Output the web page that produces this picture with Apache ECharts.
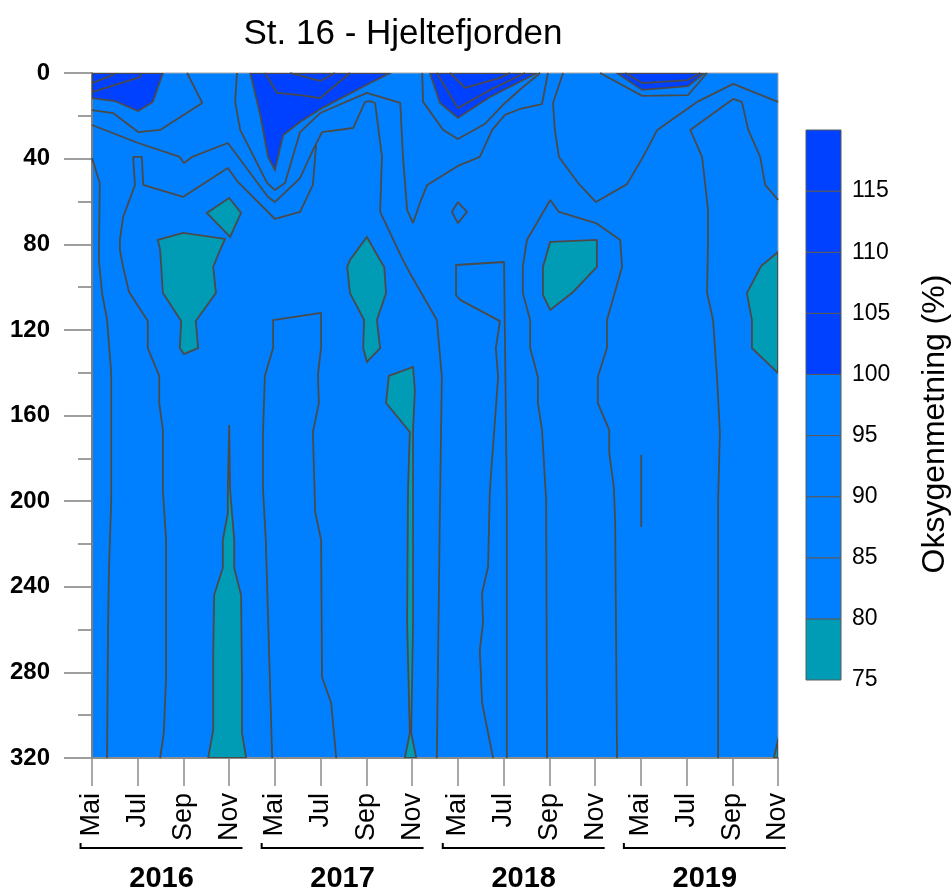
<!DOCTYPE html>
<html><head><meta charset="utf-8">
<script src="https://cdn.jsdelivr.net/npm/echarts/dist/echarts.min.js"></script>
<style>html,body{margin:0;padding:0;background:#fff}#c{width:952px;height:888px}</style>
</head><body><div id="c"></div>
<script>
// ---- axis / legend data ----
const xTickLabels = ['Mai','Jul','Sep','Nov','Mai','Jul','Sep','Nov','Mai','Jul','Sep','Nov','Mai','Jul','Sep','Nov'];
const years = ['2016','2017','2018','2019'];
const levels = [75,80,85,90,95,100,105,110,115,120];
const depthMax = 320;

// ---- filled regions: [sample index, depth m] ----
// > 100 %
const dark2016 = [[0,0],[1.55,0],[1.33,13.5],[1.01,17.8],[0.50,13.1],[0,11.7]];
const dark2017 = [[3.46,0],[6.52,0],[6.08,4.7],[5.03,16.4],[4.55,22.9],[4.18,29.0],[4.00,45.3],[3.85,39.2],[3.67,18.7]];
const dark2018 = [[7.39,0],[9.73,0],[8.70,11.2],[8.00,21.0],[7.61,14.0]];
const dark2019 = [[11.48,0],[13.40,0],[13.03,6.1],[12.03,7.9]];
// < 80 %
const low2016a = [[1.44,78.0],[1.99,74.7],[2.91,77.5],[2.80,82.7],[2.65,90.6],[2.71,102.8],[2.27,115.9],[2.32,128.5],[2.01,131.3],[1.92,128.5],[1.95,115.9],[1.55,102.8],[1.49,82.7]];
const low2016b = [[2.51,65.4],[3.00,58.4],[3.26,65.4],[3.02,76.6]];
const low2016c = [[3.00,164.4],[3.02,194.8],[3.11,218.2],[3.11,231.2],[3.26,243.9],[3.28,285.0],[3.28,308.3],[3.37,320],[2.54,320],[2.65,306.9],[2.65,272.8],[2.67,243.9],[2.86,231.2],[2.86,218.2],[2.97,205.6],[2.97,194.8]];
const low2017a = [[5.64,87.4],[6.01,76.6],[6.30,87.4],[6.39,90.6],[6.43,102.8],[6.23,115.4],[6.30,128.5],[6.01,135.0],[5.93,128.5],[5.95,115.4],[5.64,102.8],[5.58,90.6]];
const low2017b = [[6.49,141.5],[7.02,137.3],[7.06,148.1],[7.02,166.8],[7.02,194.8],[7.02,256.9],[6.98,308.3],[7.09,320],[6.84,320],[6.95,308.3],[6.89,256.9],[6.91,194.8],[6.95,167.7],[6.43,154.2]];
const low2018 = [[10.02,78.9],[11.04,78.0],[11.04,90.6],[10.52,102.3],[10.02,110.7],[9.86,103.7],[9.86,90.6]];
const low2019a = [[15,83.6],[14.63,90.2],[14.32,102.8],[14.43,115.4],[14.43,128.5],[15,140.1]];
const low2019b = [[15,311.6],[14.91,320],[15,320]];

// ---- contour lines ----
const iso2016a = [[0,17.3],[0.46,18.7],[1.01,27.6],[1.49,26.6],[2.41,14.0],[2.08,0]];
const iso2016b = [[0,24.3],[1.01,32.7],[1.92,39.2],[2.01,42.0],[2.19,39.2],[2.97,32.7],[3.85,57.9],[4.00,60.3],[4.55,49.1],[4.83,36.0],[5.03,27.6],[5.71,25.7],[5.97,13.5],[6.08,13.1],[6.19,14.0],[6.34,39.2],[6.30,64.9],[6.80,87.4],[6.95,93.4],[7.54,115.4],[7.65,142.0],[7.61,199.5],[7.54,320]];
const iso2016c = [[1.49,320],[1.57,308.3],[1.62,282.2],[1.62,218.2],[1.55,194.8],[1.55,166.8],[1.47,154.2],[1.47,141.5],[1.22,128.5],[1.22,115.9],[0.81,102.3],[0.68,90.6],[0.61,82.7],[0.61,78.0],[0.68,67.3],[0.94,52.3],[0.90,39.2],[1.09,39.2],[1.12,52.3],[1.99,57.9],[2.97,44.4],[3.19,50.9],[4.00,68.2],[4.55,64.9],[4.83,52.3],[4.90,33.5]];
const iso2016d = [[0,39.7],[0.17,51.4],[0.15,87.4],[0.22,102.8],[0.33,115.4],[0.42,140.1],[0.42,199.5],[0.37,233.6],[0.35,261.6],[0.33,320]];
const iso2017a = [[3.17,0],[3.13,13.5],[3.24,26.6],[3.83,51.4],[4.00,54.7],[4.22,51.4],[4.55,27.6],[4.99,18.7],[6.01,9.3],[6.74,14.0],[6.80,39.2],[6.89,64.0],[7.02,70.1],[7.17,60.7],[7.33,52.3],[8.00,43.4],[8.48,39.2],[8.75,26.6],[9.03,19.6],[9.36,16.8],[9.84,14.5],[9.97,0]];
const iso2017b = [[3.94,320],[3.80,218.2],[3.74,194.8],[3.74,167.7],[3.78,141.5],[3.96,128.5],[3.96,115.4],[5.01,112.1],[5.01,128.0],[4.94,141.0],[4.96,154.2],[4.83,167.7],[4.88,205.1],[5.01,218.2],[5.03,282.2],[5.23,294.3],[5.34,320]];
const iso2018a = [[7.22,0],[7.24,13.5],[7.68,26.6],[8.00,30.8],[8.59,23.8],[9.03,14.0],[9.40,7.0],[9.80,0]];
const iso2018b = [[10.30,0],[10.08,14.0],[10.12,26.6],[10.21,39.2],[10.63,51.4],[11.02,60.3],[11.70,51.9],[12.05,39.2],[12.36,26.6],[13.23,13.5],[14.02,5.1],[15,13.5]];
const iso2018c = [[9.95,320],[9.93,199.5],[9.84,166.8],[9.75,154.2],[9.75,142.0],[9.58,128.5],[9.58,115.4],[9.42,102.8],[9.42,90.6],[9.51,78.0],[10.02,59.3],[10.21,64.9],[11.02,70.1],[11.55,78.0],[11.59,90.6],[11.26,115.4],[11.26,128.5],[11.06,142.0],[11.06,154.2],[11.31,166.8],[11.31,177.5],[11.41,193.4],[11.44,210.2],[11.48,320]];
const iso2018d = [[8.77,320],[8.53,294.3],[8.48,269.5],[8.55,256.9],[8.53,242.9],[8.66,230.8],[8.70,194.8],[8.88,142.0],[8.83,128.5],[8.92,115.9],[8.05,106.0],[7.96,103.7],[7.96,89.7],[9.01,88.3],[9.03,124.7],[9.07,199.5],[9.07,320]];
const iso2018e = [[8.00,60.3],[8.20,64.9],[8.00,70.1],[7.87,64.9],[8.00,60.3]];
const iso2019a = [[11.11,0],[12.03,10.7],[13.03,10.3],[13.45,0]];
const iso2019b = [[13.69,320],[13.69,199.5],[13.73,168.2],[13.67,143.4],[13.58,115.4],[13.45,102.8],[13.47,78.0],[13.47,64.0],[13.34,39.2],[13.08,26.6],[14.02,12.1],[14.21,13.5],[14.35,26.6],[14.61,39.2],[14.72,52.3],[15,59.3]];
const iso2019c = [[12.01,178.4],[12.01,212.1]];
// contours inside the > 100 % regions
const isoHigh2016a = [[0,8.9],[1.05,1.9],[1.07,0]];
const isoHigh2016b = [[0,4.7],[0.46,0.9],[0.46,0]];
const isoHigh2017a = [[3.78,0],[4.05,9.3],[4.55,10.3],[4.99,11.7],[5.64,0]];
const isoHigh2017b = [[4.33,0],[4.99,3.7],[5.31,0]];
const isoHigh2018a = [[7.54,0],[8.00,16.4],[8.70,7.9],[9.47,0]];
const isoHigh2018b = [[7.83,0],[8.16,7.0],[8.92,2.3],[9.14,0]];
const isoHigh2019a = [[11.66,0],[12.03,4.7],[13.03,3.3],[13.30,0]];

// ---- styles ----
const C_DARK = '#0040ff', C_MID = '#0080ff', C_LOW = '#009bb4', C_LINE = '#4a4a4a';
const LINE_W = 1.8;
const bandColors = [C_LOW, C_MID, C_MID, C_MID, C_MID, C_DARK, C_DARK, C_DARK, C_DARK];
const FONT = 'Liberation Sans';

const polys = [
  {pts: dark2016, fill: C_DARK},{pts: dark2017, fill: C_DARK},{pts: dark2018, fill: C_DARK},{pts: dark2019, fill: C_DARK},
  {pts: low2016a, fill: C_LOW},{pts: low2016b, fill: C_LOW},{pts: low2016c, fill: C_LOW},{pts: low2017a, fill: C_LOW},
  {pts: low2017b, fill: C_LOW},{pts: low2018, fill: C_LOW},{pts: low2019a, fill: C_LOW},{pts: low2019b, fill: C_LOW}
];
const contours = [iso2016a, iso2016b, iso2016c, iso2016d, iso2017a, iso2017b, iso2018a, iso2018b, iso2018c, iso2018d, iso2018e,
  iso2019a, iso2019b, iso2019c, isoHigh2016a, isoHigh2016b, isoHigh2017a, isoHigh2017b, isoHigh2018a, isoHigh2018b, isoHigh2019a];

const bands = levels.slice(0, -1).map((lo, i) => [lo, levels[i + 1], i]);

const chart = echarts.init(document.getElementById('c'), null, {renderer: 'canvas'});

const series = [];
series.push({
  type: 'custom', xAxisIndex: 0, yAxisIndex: 0, z: 2, silent: true, clip: true,
  data: polys.map((p, i) => [p.pts[0][0], p.pts[0][1], i]),
  encode: {x: 0, y: 1},
  renderItem: function (params, api) {
    const p = polys[api.value(2)];
    return {type: 'polygon', shape: {points: p.pts.map(q => api.coord(q))},
      style: {fill: p.fill, stroke: C_LINE, lineWidth: LINE_W}};
  }
});
contours.forEach(c => series.push({
  type: 'line', xAxisIndex: 0, yAxisIndex: 0, data: c, symbol: 'none', showSymbol: false,
  silent: true, z: 3, clip: true, lineStyle: {color: C_LINE, width: LINE_W}
}));
series.push({
  type: 'custom', xAxisIndex: 1, yAxisIndex: 1, silent: true,
  data: bands, encode: {y: [0, 1]},
  renderItem: function (params, api) {
    const a = api.coord([0, api.value(0)]), b = api.coord([1, api.value(1)]);
    return {type: 'rect', shape: {x: a[0], y: b[1], width: b[0] - a[0], height: a[1] - b[1]},
      style: {fill: bandColors[api.value(2)], stroke: '#5a5a5a', lineWidth: 1}};
  }
});

chart.setOption({
  animation: false,
  backgroundColor: '#ffffff',
  title: {text: 'St. 16 - Hjeltefjorden', left: 398, top: 12, textAlign: 'center',
    textStyle: {fontSize: 35, fontWeight: 'normal', color: '#000', fontFamily: FONT}},
  grid: [
    {left: 92, top: 73, width: 686, height: 685, show: true, backgroundColor: C_MID, borderColor: '#a6a6a6', borderWidth: 1},
    {left: 806, top: 130, width: 35, height: 550, show: false}
  ],
  xAxis: [
    {type: 'value', gridIndex: 0, min: 0, max: 15, interval: 1, position: 'bottom',
      axisLine: {show: true, onZero: false, lineStyle: {color: '#8c8c8c', width: 2}},
      axisTick: {show: true, length: 28, lineStyle: {color: '#8c8c8c', width: 1.5}},
      axisLabel: {show: true, rotate: 90, margin: 35, fontSize: 27, color: '#000', fontFamily: FONT,
        showMinLabel: true, showMaxLabel: true, formatter: v => xTickLabels[v] || ''},
      splitLine: {show: false}},
    {type: 'value', gridIndex: 1, min: 0, max: 1, show: false}
  ],
  yAxis: [
    {type: 'value', gridIndex: 0, inverse: true, min: 0, max: depthMax, interval: 40,
      axisLine: {show: true, onZero: false, lineStyle: {color: '#7f7f7f', width: 2}},
      axisTick: {show: true, length: 28, lineStyle: {color: '#7f7f7f', width: 1.5}},
      minorTick: {show: true, splitNumber: 2, length: 14, lineStyle: {color: '#7f7f7f', width: 1.5}},
      axisLabel: {margin: 42, fontSize: 24, fontWeight: 'bold', color: '#000', fontFamily: FONT,
        showMinLabel: true, showMaxLabel: true},
      splitLine: {show: false}, minorSplitLine: {show: false}},
    {type: 'value', gridIndex: 1, min: levels[0], max: levels[levels.length - 1], interval: 5, position: 'right',
      axisLine: {show: false}, axisTick: {show: false}, splitLine: {show: false},
      axisLabel: {margin: 11, fontSize: 23, color: '#000', fontFamily: FONT,
        formatter: v => (v === levels[levels.length - 1] ? '' : String(v))}}
  ],
  series: series
});

// year groups and colour-bar title
const g = [];
years.forEach((y, i) => {
  const c = 1.52 + 3.96 * i;
  const x0 = chart.convertToPixel({xAxisIndex: 0}, c - 1.77);
  const x1 = chart.convertToPixel({xAxisIndex: 0}, c + 1.77);
  const xc = chart.convertToPixel({xAxisIndex: 0}, c);
  g.push({type: 'line', silent: true, shape: {x1: x0, y1: 848, x2: x1, y2: 848}, style: {stroke: '#000', lineWidth: 2}});
  g.push({type: 'line', silent: true, shape: {x1: x0, y1: 843, x2: x0, y2: 849}, style: {stroke: '#000', lineWidth: 2}});
  g.push({type: 'text', silent: true, x: xc, y: 879,
    style: {text: y, font: 'bold 29px "' + FONT + '"', fill: '#000', align: 'center', verticalAlign: 'middle'}});
});
g.push({type: 'text', silent: true, x: 935, y: 424, rotation: Math.PI / 2,
  style: {text: 'Oksygenmetning (%)', font: '32px "' + FONT + '"', fill: '#000', align: 'center', verticalAlign: 'middle'}});
chart.setOption({graphic: g});
</script>
</body></html>
